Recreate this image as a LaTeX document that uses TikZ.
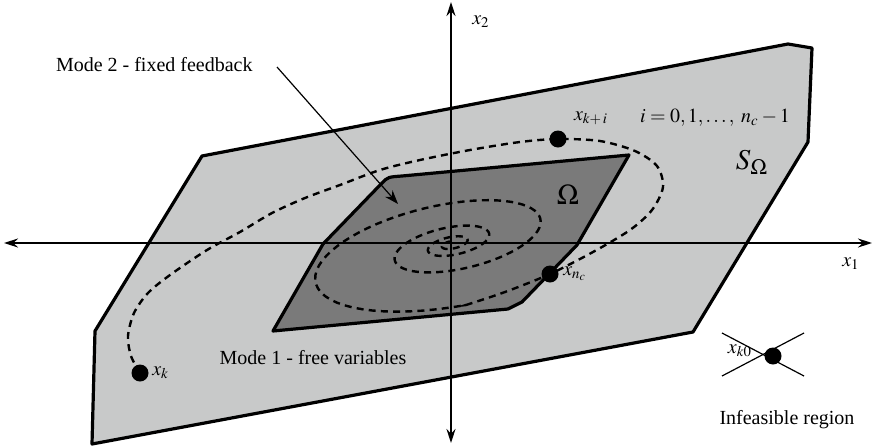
\documentclass[tikz,border=0pt]{standalone}
\usepackage{amsmath,amssymb}
\usepackage{mathptmx}
\usepackage[no-math]{fontspec}
\setmainfont{Liberation Serif}
\usepackage{tikz}
\usetikzlibrary{arrows.meta,positioning}

\definecolor{setgray}{RGB}{200,201,201}
\definecolor{omegagray}{RGB}{122,122,122}

\begin{document}
\begin{tikzpicture}[
    x=0.5pt, y=-0.5pt,
    region/.style={draw=black, line width=1.6pt, line join=round},
    axis/.style={line width=0.7pt, {Stealth[length=7pt,width=4.5pt]}-{Stealth[length=7pt,width=4.5pt]}},
    trajline/.style={line width=1.2pt, dash pattern=on 3.5pt off 2.6pt},
    statedot/.style={circle, fill=black, inner sep=0pt, minimum size=8.5pt},
    declare function={
        sc(\x)=pow(0.42,(\x-180)/360);
        su(\x)=334*sc(\x)*cos(\x);
        sv(\x)=120*sc(\x)*sin(\x);
        spx(\x)=452+0.974*su(\x)+0.225*sv(\x);
        spy(\x)=244-0.225*su(\x)+0.974*sv(\x);
    }
]
\useasboundingbox (0,0) rectangle (873,445);

% sets
\filldraw[region, fill=setgray] (92,444) -- (95,331) -- (202,156) -- (788,44)
    -- (812,48) -- (808,142) -- (693,332) -- cycle;
\filldraw[region, fill=omegagray] (273,331) -- (323,244) -- (382,183)
    .. controls (388,177) .. (402,176) -- (629,155) -- (577,245)
    -- (522,302) -- (508,309) -- cycle;

% axes
\coordinate (x1l) at (4,243);
\coordinate (x1r) at (872,243);
\coordinate (x2b) at (451,443);
\coordinate (x2t) at (451,2);
\draw[axis] (x1l) -- (x1r);
\draw[axis] (x2b) -- (x2t);
\node (x1lab) at (851,264) {$x_1$};
\node (x2lab) at (481,22) {$x_2$};

% trajectory
\draw[trajline] plot[smooth] coordinates {
    (140,373) (131,356) (128,336) (134,313) (148,293) (170,275) (207,250)
    (240,232) (272,213) (305,198) (340,185) (380,170) (420,160) (470,150)
    (520,142) (558,139) (600,141) (635,151) (657,166) (663,187) (652,210)
    (630,230) (593,252) (550,274) (505,292) (466,305)}
    -- plot[domain=450:1700, samples=250] ({spx(\x)},{spy(\x)});

\node[statedot] (xk) at (140,373) {};
\node[statedot] (xki) at (558,139) {};
\node[statedot] (xnc) at (550,274) {};
\node[anchor=west, inner sep=1.5pt] (xklab) at (xk.east) {$x_k$};
\node (xkilab) at (591,118) {$x_{k+\,i}$};
\node[anchor=west, inner sep=2pt] (xnclab) at (xnc.east) {$x_{n_c}$};
\node (ilab) at (715,118) {$i=0,1,\ldots,\;n_c-1$};

\node (omlab) at (568,195) {\Large $\Omega$};
\node (somlab) at (752,162) {\Large $S_{\Omega}$};

% modes
\node[anchor=east, inner sep=0pt] (mode2) at (253,65) {Mode 2 - fixed feedback};
\coordinate (m2tail) at (277,67);
\coordinate (m2tip) at (398,204);
\draw[line width=0.6pt, -{Stealth[length=7pt,width=5pt]}] (m2tail) -- (m2tip);
\node (mode1) at (313,358) {Mode 1 - free variables};

% infeasible start
\coordinate (crA) at (722,333);
\coordinate (crB) at (804,376);
\coordinate (crC) at (722,376);
\coordinate (crD) at (804,333);
\draw[line width=0.6pt] (crA) -- (crB);
\draw[line width=0.6pt] (crC) -- (crD);
\node[statedot] (xk0) at (773,356) {};
\node (xk0lab) at (740,351) {$x_{k0}$};
\node (infeas) at (787,420) {Infeasible region};
\end{tikzpicture}
\end{document}
